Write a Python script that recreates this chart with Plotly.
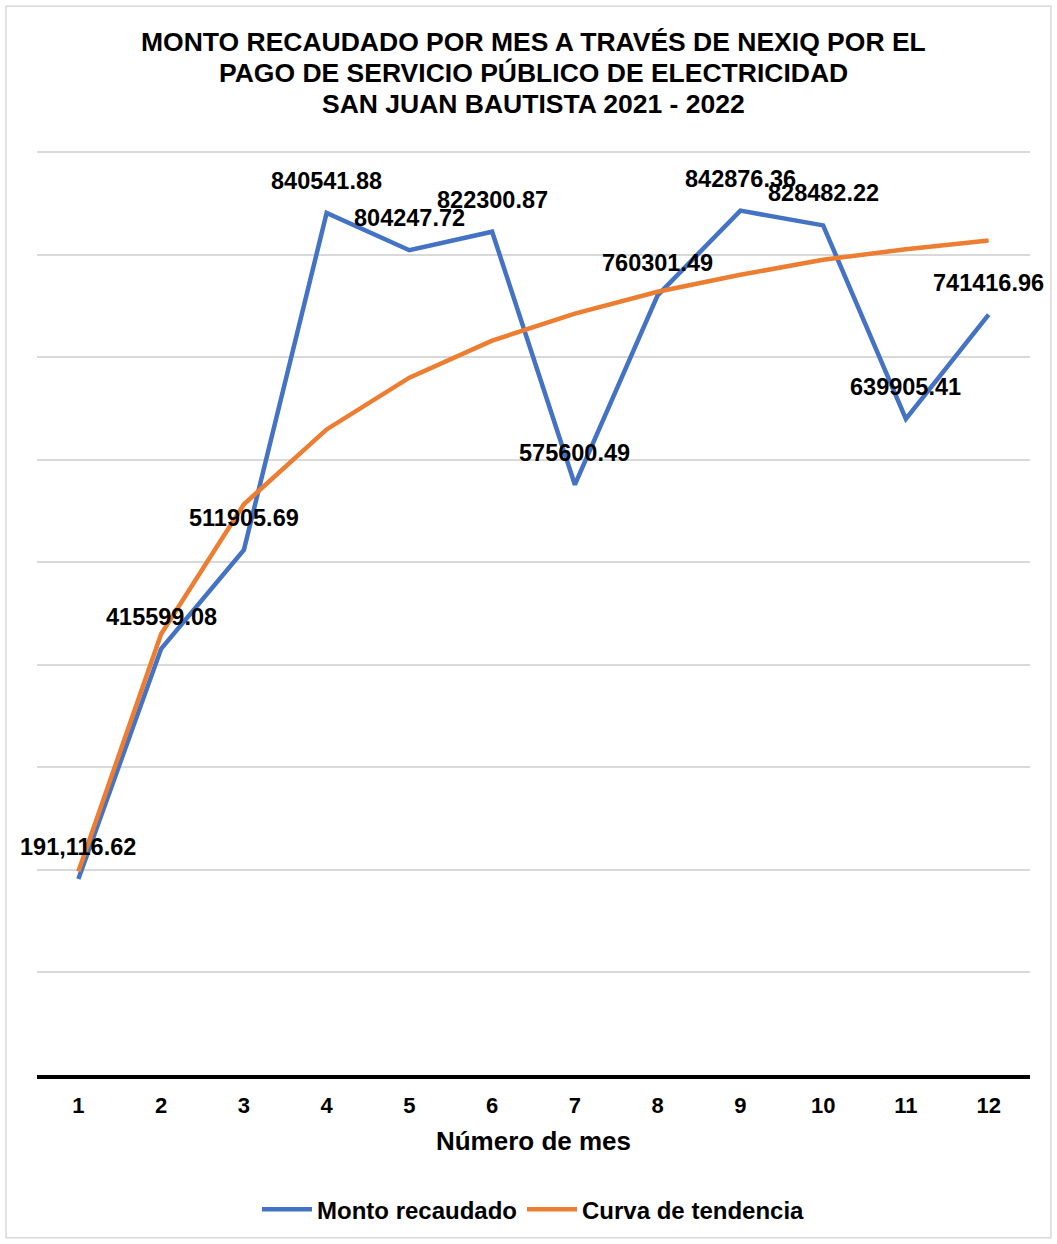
import plotly.graph_objects as go

meses = [1, 2, 3, 4, 5, 6, 7, 8, 9, 10, 11, 12]
monto = [191116.62, 415599.08, 511905.69, 840541.88, 804247.72, 822300.87,
         575600.49, 760301.49, 842876.36, 828482.22, 639905.41, 741416.96]
etiquetas = ["191,116.62", "415599.08", "511905.69", "840541.88", "804247.72", "822300.87",
             "575600.49", "760301.49", "842876.36", "828482.22", "639905.41", "741416.96"]
tendencia = [198500, 430000, 556500, 629500, 680000, 716100,
             742400, 763800, 780300, 794900, 805300, 813700]
titulo = ["MONTO RECAUDADO POR MES A TRAVÉS DE NEXIQ POR EL",
          "PAGO DE SERVICIO PÚBLICO DE ELECTRICIDAD",
          "SAN JUAN BAUTISTA 2021 - 2022"]

FONT = "Liberation Sans, Arial, sans-serif"
BLUE = "#4472C4"
ORANGE = "#ED7D31"

fig = go.Figure()
fig.add_trace(go.Scatter(x=meses, y=monto, mode="lines", name="Monto recaudado",
                         line=dict(color=BLUE, width=4.5)))
fig.add_trace(go.Scatter(x=meses, y=tendencia, mode="lines", name="Curva de tendencia",
                         line=dict(color=ORANGE, width=4.5)))

for xm, ym, t in zip(meses, monto, etiquetas):
    fig.add_annotation(x=xm, y=ym, text=t, showarrow=False, yshift=32,
                       font=dict(family=FONT, size=23.5, color="black", weight="bold"))

W, H = 1057, 1244
L, R, T, B = 37, 27, 150, 167
pw = W - L - R
ph = H - T - B

# title lines (centres at 42, 73, 104 px from top)
for i, line in enumerate(titulo):
    ypix = 42 + 31 * i
    fig.add_annotation(xref="paper", yref="paper", x=0.5, y=(H - B - ypix) / ph,
                       xanchor="center", yanchor="middle", showarrow=False, text=line,
                       font=dict(family=FONT, size=26.5, color="black", weight="bold"))

fig.add_shape(type="rect", xref="paper", yref="paper",
              x0=(6 - L) / pw, x1=(1051 - L) / pw,
              y0=(H - B - 1240) / ph, y1=(H - B - 6) / ph,
              line=dict(color="#d9d9d9", width=1.5), fillcolor="rgba(0,0,0,0)", layer="below")

fig.update_layout(
    width=W, height=H,
    margin=dict(l=L, r=R, t=T, b=B),
    paper_bgcolor="white", plot_bgcolor="white",
    font=dict(family=FONT, color="black"),
    xaxis=dict(range=[0.5, 12.5], tickmode="array", tickvals=meses,
               ticktext=[str(m) for m in meses], showgrid=False, zeroline=False,
               showline=True, linecolor="black", linewidth=3.5, ticks="",
               ticklabelstandoff=8,
               tickfont=dict(family=FONT, size=22, color="black", weight="bold"),
               title=dict(text="Número de mes", standoff=16,
                          font=dict(family=FONT, size=26, color="black", weight="bold"))),
    yaxis=dict(range=[0, 902000], tickmode="array",
               tickvals=[100000 * i for i in range(1, 10)],
               showticklabels=False, showgrid=True,
               gridcolor="#d9d9d9", gridwidth=1.5, zeroline=False, ticks=""),
    legend=dict(orientation="h", x=0.5, xanchor="center", y=(H - B - 1212) / ph, yanchor="middle",
                font=dict(family=FONT, size=24, color="black", weight="bold"),
                itemwidth=50, bgcolor="rgba(0,0,0,0)"),
)

fig.write_html("out.html")
